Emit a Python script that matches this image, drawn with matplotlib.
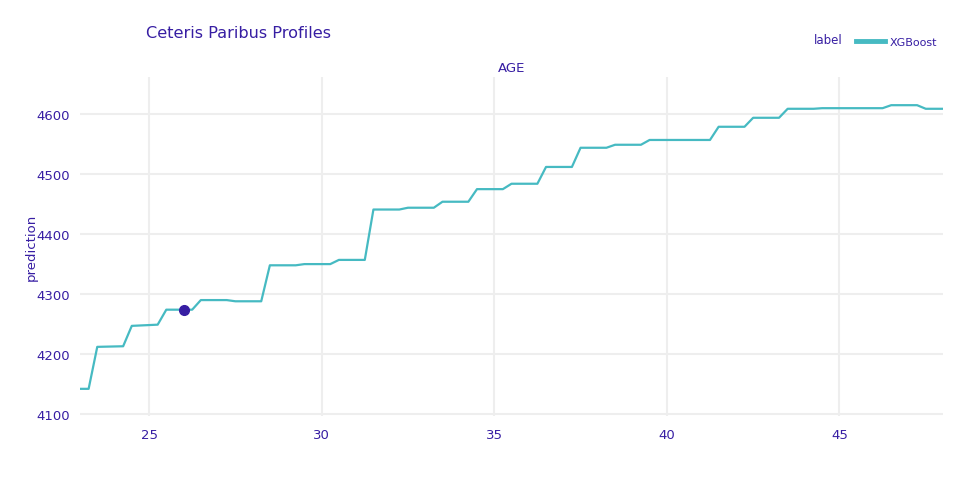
import matplotlib
matplotlib.use("Agg")
import matplotlib.pyplot as plt

# profile vertices (age, prediction)
age = [23.0, 23.25, 23.5, 24.25, 24.5, 25.25, 25.5, 26.25, 26.5, 27.25,
       27.5, 28.25, 28.5, 29.25, 29.5, 30.25, 30.5, 31.25, 31.5, 32.25,
       32.5, 33.25, 33.5, 34.25, 34.5, 35.25, 35.5, 36.25, 36.5, 37.25,
       37.5, 38.25, 38.5, 39.25, 39.5, 41.25, 41.5, 42.25, 42.5, 43.25,
       43.5, 44.25, 44.5, 46.25, 46.5, 47.25, 47.5, 48.0]
prediction = [4142, 4142, 4212, 4213, 4247, 4249, 4274, 4274, 4290, 4290,
              4288, 4288, 4348, 4348, 4350, 4350, 4357, 4357, 4441, 4441,
              4444, 4444, 4454, 4454, 4475, 4475, 4484, 4484, 4512, 4512,
              4544, 4544, 4549, 4549, 4557, 4557, 4579, 4579, 4594, 4594,
              4609, 4609, 4610, 4610, 4615, 4615, 4609, 4609]

# observed point
obs_age = [26.0]
obs_pred = [4274]

xticks = [25, 30, 35, 40, 45]
yticks = [4100, 4200, 4300, 4400, 4500, 4600]

line_col = "#46bac2"
text_col = "#371ea3"
grid_col = "#eeeeee"

fig = plt.figure(figsize=(9.73, 4.89), dpi=100)
W, H = 973, 489
ax = fig.add_axes([80 / W, 1 - 417 / H, (943 - 80) / W, (417 - 78) / H])

ax.plot(age, prediction, color=line_col, lw=1.6, zorder=3)
ax.plot(obs_age, obs_pred, "o", color=text_col, ms=7, zorder=4)

ax.set_xlim(23, 48)
ax.set_ylim(4096.7, 4662)
ax.set_xticks(xticks)
ax.set_yticks(yticks)
ax.grid(True, color=grid_col, lw=1.5)
ax.set_axisbelow(True)
for s in ax.spines.values():
    s.set_visible(False)
ax.tick_params(length=0, colors=text_col, labelsize=9.5, pad=7)
ax.tick_params(axis="x", pad=9)

fig.text(146 / W, 1 - 33 / H, "Ceteris Paribus Profiles", color=text_col,
         fontsize=11.6, ha="left", va="center")
fig.text(511.5 / W, 1 - 68 / H, "AGE", color=text_col, fontsize=9.5,
         ha="center", va="center")
fig.text(31 / W, 1 - 247 / H, "prediction", color=text_col, fontsize=9.5,
         ha="center", va="center", rotation=90)

# legend drawn by hand to match position
fig.text(814 / W, 1 - 40 / H, "label", color=text_col, fontsize=8.5,
         ha="left", va="center")
fig.add_artist(plt.Line2D([856 / W, 885 / W], [1 - 42 / H, 1 - 42 / H],
                          color=line_col, lw=3.5))
fig.text(890 / W, 1 - 43 / H, "XGBoost", color=text_col, fontsize=8,
         ha="left", va="center")

fig.savefig("out.png", dpi=100)
